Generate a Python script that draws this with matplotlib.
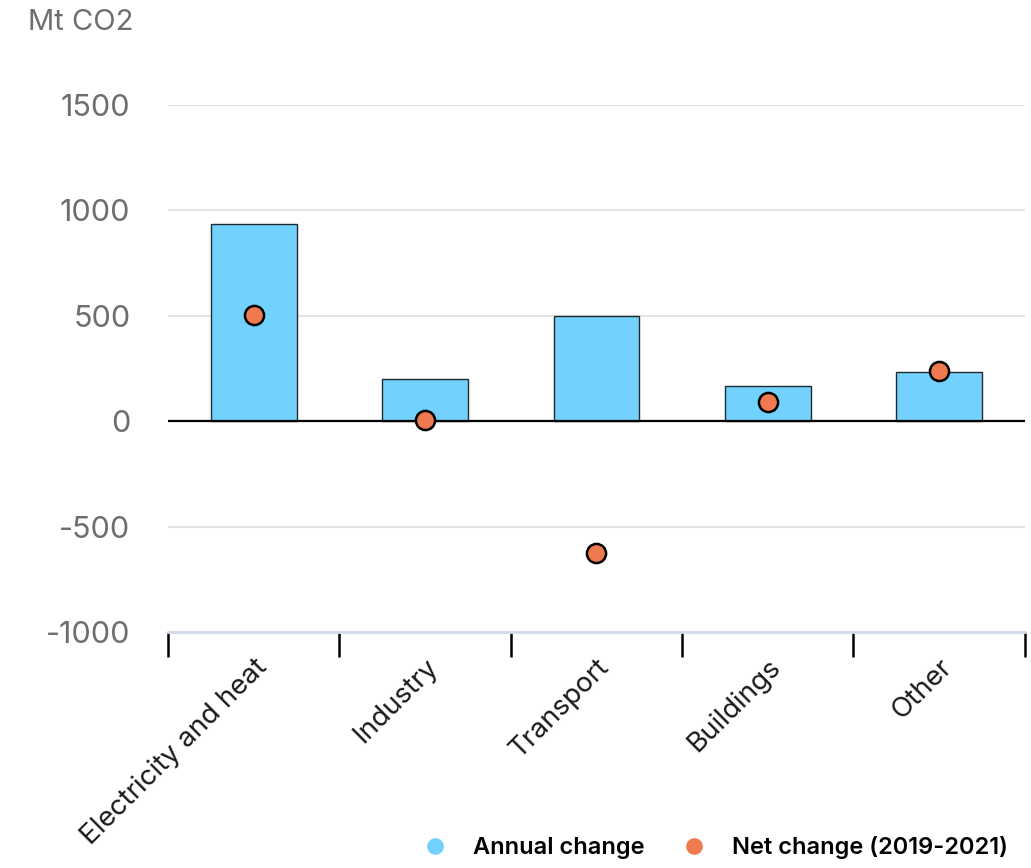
import numpy as np
import matplotlib
matplotlib.use("Agg")
import matplotlib.pyplot as plt
from matplotlib.lines import Line2D

# data
sectors = ["Electricity and heat", "Industry", "Transport", "Buildings", "Other"]
annual_change = [935, 200, 500, 165, 235]
net_change = [505, 5, -625, 90, 240]
y_ticks = [-1000, -500, 0, 500, 1000, 1500]

bar_color = "#73d2fd"
dot_color = "#ef7a4f"

plt.rcParams['font.family'] = ['Inter', 'DejaVu Sans']

fig = plt.figure(figsize=(10.31, 8.68), dpi=100)
ax = fig.add_axes([0.163, 0.272, 0.831, 0.607])

x = np.arange(len(sectors))
ax.bar(x, annual_change, width=0.5, color=bar_color, edgecolor="#1f2a30",
       linewidth=1, zorder=2)
ax.scatter(x, net_change, s=190, color=dot_color, edgecolor="black",
           linewidth=1.8, zorder=4)

ax.axhline(0, color="black", linewidth=1.6, zorder=3)

ax.set_xlim(-0.5, len(sectors) - 0.5)
ax.set_ylim(-1000, 1500)
ax.set_yticks(y_ticks)
ax.set_yticklabels([str(v) for v in y_ticks], fontsize=22, color="#6e6e6e")
ax.tick_params(axis="y", length=0, pad=27)
ax.yaxis.grid(True, color="#e3e3e3", linewidth=1.5, zorder=0)
ax.set_axisbelow(True)

# category labels at the bars, tick marks between categories
ax.set_xticks(x)
ax.set_xticklabels(sectors, rotation=45, ha="right", rotation_mode="anchor",
                   fontsize=20, color="#1a1a1a")
ax.tick_params(axis="x", which="major", length=0, pad=16)
ax.set_xticks(np.arange(-0.5, len(sectors)), minor=True)
ax.tick_params(axis="x", which="minor", length=18, width=1.8, color="black")

for side in ["top", "right", "left"]:
    ax.spines[side].set_visible(False)
ax.spines["bottom"].set_color("#d3daea")
ax.spines["bottom"].set_linewidth(2)

fig.text(0.027, 0.974, "Mt CO2", fontsize=21, color="#6e6e6e", va="center")

handles = [
    Line2D([], [], marker="o", linestyle="none", markersize=12,
           markerfacecolor=bar_color, markeredgecolor="none", label="Annual change"),
    Line2D([], [], marker="o", linestyle="none", markersize=12,
           markerfacecolor=dot_color, markeredgecolor="none", label="Net change (2019-2021)"),
]
fig.legend(handles=handles, loc="lower right", bbox_to_anchor=(0.998, -0.014),
           ncol=2, frameon=False, handletextpad=0.6,
           columnspacing=1.1, prop={"weight": "semibold", "size": 17})

fig.savefig("out.png", dpi=100)
